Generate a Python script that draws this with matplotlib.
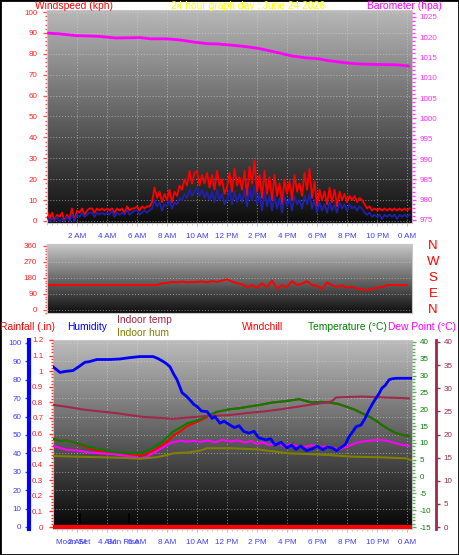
import matplotlib
matplotlib.use("Agg")
import matplotlib.pyplot as plt
import matplotlib.transforms as mtransforms
import numpy as np
from matplotlib.patches import Rectangle
from matplotlib.ticker import MultipleLocator, FormatStrFormatter

plt.rcParams["font.family"] = ["Liberation Sans", "DejaVu Sans"]
plt.rcParams["axes.unicode_minus"] = False

# ---------------- data ----------------
hour_ticks = [2, 4, 6, 8, 10, 12, 14, 16, 18, 20, 22, 24]
hour_labels = ["2 AM", "4 AM", "6 AM", "8 AM", "10 AM", "12 PM",
               "2 PM", "4 PM", "6 PM", "8 PM", "10 PM", "0 AM"]

# wind speed (kph), one value every 10 minutes from midnight
wind_gust = [5, 1, 4, 0, 3, 2,   4, 0, 3, 1, 6, 0,   5, 4, 6, 3, 5, 6,
             6, 4, 6, 5, 6, 5,   6, 5, 6, 4, 6, 5,   6, 4, 7, 5, 6, 6,
             7, 5, 7, 6, 7, 7,   9, 16, 11, 14, 9, 13,   10, 15, 9, 14, 12, 17,
             15, 20, 17, 24, 18, 23,   24, 17, 22, 18, 23, 16,   22, 15, 24, 17, 20, 13,
             16, 23, 14, 25, 17, 21,   15, 24, 12, 26, 18, 29,   14, 22, 11, 24, 13, 21,
             10, 22, 12, 18, 8, 20,   13, 19, 10, 22, 14, 18,   12, 23, 15, 25, 11, 19,
             7, 15, 10, 14, 8, 16,   9, 15, 7, 14, 10, 13,   9, 12, 10, 12, 9, 11,
             10, 8, 6, 7, 5, 6,   5, 6, 5, 6, 5, 6,   5, 6, 5, 6, 5, 6,   5, 6]
wind_avg = [2, 0, 1, 0, 2, 0,   1, 0, 2, 0, 3, 0,   3, 2, 4, 2, 3, 4,
            4, 2, 4, 3, 4, 3,   4, 3, 5, 2, 4, 3,   4, 3, 5, 3, 4, 5,
            5, 3, 4, 5, 4, 5,   6, 10, 7, 9, 5, 8,   7, 10, 6, 9, 8, 11,
            10, 13, 11, 15, 12, 14,   16, 12, 15, 11, 14, 10,   14, 9, 15, 10, 13, 8,
            10, 15, 8, 14, 9, 13,   9, 15, 7, 16, 10, 17,   8, 13, 5, 14, 7, 12,
            5, 12, 6, 11, 4, 12,   7, 11, 5, 12, 8, 10,   6, 12, 8, 13, 6, 10,
            4, 9, 5, 8, 4, 9,   5, 8, 4, 9, 6, 8,   5, 8, 6, 7, 5, 7,
            6, 4, 3, 4, 2, 3,   2, 3, 1, 3, 2, 3,   2, 3, 1, 3, 2, 3,   2, 3]

baro_hours = [0.1, 0.9, 1.9, 2.8, 3.5, 4.6, 6.2, 6.9, 8.0, 8.9, 9.8, 10.7, 11.5, 12.1,
              13.0, 13.8, 14.3, 15.5, 16.3, 17.3, 18.1, 18.8, 19.9, 20.8, 22.0, 23.3, 24.1]
baro_hpa = [1021.0, 1020.8, 1020.4, 1020.3, 1020.2, 1019.8, 1019.9, 1019.6, 1019.6, 1019.3,
            1018.8, 1018.4, 1018.3, 1018.1, 1017.8, 1017.4, 1017.1, 1016.1, 1015.4, 1014.9,
            1014.7, 1014.2, 1013.7, 1013.4, 1013.3, 1013.2, 1012.9]

# wind direction (deg), one value every 20 minutes
wind_dir = [140] * 22 + [140, 150, 152, 158, 155, 160, 155, 157, 158, 160, 156, 162, 158, 165,
                         172, 160, 150, 145, 128, 140, 125, 150, 128, 165, 120, 138, 130, 162,
                         140, 148, 162, 140, 135, 118, 155, 140, 130, 138, 125, 130, 120, 115,
                         112, 118, 125, 128] + [140, 140, 140, 140, 140]
compass_labels = ["N", "W", "S", "E", "N"]
compass_deg = [360, 270, 180, 90, 0]

hum_hours = [0.4, 0.87, 1.2, 1.73, 2.1, 2.53, 2.8, 3.33, 4.2, 4.87, 5.5, 6.2, 7.07, 7.4, 7.73,
             8.0, 8.2, 8.45, 8.67, 9.0, 9.3, 9.53, 9.8, 10.0, 10.3, 10.67, 11.0, 11.2, 11.53, 11.8,
             12.2, 12.5, 12.8, 13.1, 13.47, 13.8, 14.1, 14.6, 14.9, 15.2, 15.6, 16.0, 16.3, 16.6,
             16.9, 17.3, 17.67, 18.0, 18.4, 18.7, 19.0, 19.3, 19.67, 19.9, 20.13, 20.4, 20.6,
             20.93, 21.2, 21.47, 21.7, 21.93, 22.1, 22.33, 22.55, 22.8, 23.0, 23.27, 24.27]
humidity = [87, 84, 84.5, 85, 87, 89.5, 89.8, 91, 91, 91.3, 92, 92.6, 92.6, 91.5, 90,
            88.5, 87, 83, 80, 73, 71, 69, 66.5, 65.5, 63, 62.7, 59, 60, 56.4, 57.5,
            55.4, 54, 55, 52, 51, 52, 48.5, 47.3, 48, 44.5, 46, 43, 44.5, 42.2,
            44, 41.5, 42.4, 44, 42, 43.5, 43, 41.5, 43.6, 45, 49, 52, 54.5,
            55.4, 59, 63.6, 67, 70, 72, 75.5, 77, 80, 80.5, 80.8, 80.8]

temp_hours = [0.4, 0.9, 1.33, 1.8, 2.2, 2.8, 3.53, 4.1, 4.67, 5.3, 6.0, 6.4, 6.67, 7.1, 7.53,
              8.0, 8.4, 8.9, 9.33, 9.8, 10.2, 10.8, 11.33, 12.2, 12.8, 13.47, 14.2, 15.0, 15.9,
              16.8, 17.3, 17.67, 18.3, 18.8, 19.4, 19.93, 20.5, 21.0, 21.4, 21.67, 22.0, 22.33,
              22.8, 23.27, 23.7, 24.13]
temperature = [11.2, 10.6, 10.7, 10.2, 9.7, 8.8, 8.1, 7.6, 7.2, 7.0, 6.9, 7.1, 7.7, 8.6, 9.9,
               11.6, 13.3, 14.6, 15.8, 16.4, 17.0, 18.2, 19.3, 20.0, 20.3, 20.8, 21.3, 22.0, 22.4,
               23.0, 22.4, 22.0, 22.2, 22.0, 21.6, 20.8, 19.9, 18.8, 18.0, 17.3, 16.4, 15.3,
               14.0, 12.9, 12.4, 12.0]
windchill = [11.2, 10.6, 10.7, 10.2, 9.5, 8.4, 7.6, 7.1, 6.7, 6.5, 6.4, 6.5, 6.9, 7.7, 8.9,
             10.4, 12.1, 13.5, 15.0, 15.9, 16.6, 18.0, 19.2, 20.0, 20.3, 20.8, 21.3, 22.0, 22.4,
             23.0, 22.4, 22.0, 22.2, 22.0, 21.6, 20.8, 19.9, 18.8, 18.0, 17.3, 16.4, 15.3,
             14.0, 12.9, 12.4, 12.0]

dew_hours = [0.4, 0.8, 1.33, 2.0, 2.6, 3.53, 4.5, 5.2, 5.73, 6.2, 6.6, 7.07, 7.6, 8.2, 8.87,
             9.3, 9.8, 10.2, 10.7, 11.2, 11.7, 12.2, 12.7, 13.2, 13.6, 14.0, 14.33, 14.8, 15.3,
             15.8, 16.2, 16.6, 17.1, 17.6, 18.2, 18.8, 19.2, 19.47, 19.8, 20.13, 20.6, 21.0,
             21.6, 22.13, 22.7, 23.27, 23.7, 24.13]
dew_point = [9.1, 8.6, 7.9, 7.8, 7.3, 6.9, 6.6, 6.2, 5.9, 5.4, 5.8, 6.9, 8.3, 9.9, 10.7,
             10.4, 10.6, 10.3, 10.7, 10.2, 10.9, 10.4, 10.8, 10.1, 10.6, 9.6, 10.2, 9.4, 9.9,
             9.0, 9.6, 9.1, 8.7, 9.3, 8.9, 8.9, 8.4, 8.1, 8.6, 9.1, 10.0, 10.4,
             10.7, 10.9, 10.6, 9.9, 9.4, 9.1]

intemp_hours = [0.4, 1.5, 2.4, 3.5, 4.67, 5.5, 6.4, 7.5, 8.4, 9.5, 10.67, 12.2, 13.5, 14.5,
                15.47, 16.5, 17.67, 18.6, 19.0, 19.27, 20.0, 21.0, 22.5, 23.5, 24.13]
indoor_temp = [26.4, 25.9, 25.4, 25.0, 24.6, 24.2, 23.8, 23.6, 23.4, 23.7, 24.0, 24.2, 24.7, 25.0,
               25.4, 25.9, 26.5, 26.9, 27.2, 28.0, 28.1, 28.2, 28.0, 27.9, 27.8]

inhum_hours = [0.4, 2.0, 3.53, 5.0, 6.2, 7.3, 8.0, 8.4, 9.5, 10.2, 10.67, 12.2, 14.0, 15.27,
               16.13, 17.5, 18.8, 20.33, 22.13, 23.93, 24.27]
indoor_hum = [38.6, 38.2, 37.9, 37.6, 37.1, 37.9, 39.1, 40.0, 40.6, 41.5, 42.8, 42.8, 42.2, 40.9,
              40.0, 39.6, 39.1, 38.2, 37.9, 37.3, 36.4]

rain_hours = [0.4, 24.33]
rainfall = [0, 0]

moon_set_hour = 2.2
sun_rise_hour = 5.47

# ---------------- helpers ----------------
W, H = 459, 555
BLUE_TXT = "#3c3cff"
MAROON = "#a0284a"
PX = 0.72  # points per pixel at 100 dpi


def rect(x0, y0, x1, y1):
    # pixel box with top-left origin -> figure fraction
    return [x0 / W, 1 - y1 / H, (x1 - x0) / W, (y1 - y0) / H]


def gradient(ax, top, bottom):
    g = np.linspace(top, bottom, 200).reshape(-1, 1)
    ax.imshow(g, extent=[0, 1, 0, 1], transform=ax.transAxes, aspect="auto",
              cmap="gray", vmin=0, vmax=1, zorder=0, interpolation="bilinear")


def frame(ax):
    for s in ax.spines.values():
        s.set_color("#c8c8c8")
        s.set_linewidth(0.8)


def overlay(r, base):
    ax = fig.add_axes(r, sharex=base)
    ax.patch.set_visible(False)
    for s in ax.spines.values():
        s.set_visible(False)
    ax.xaxis.set_visible(False)
    return ax


def ftext(x, y, s, color, size=7.4):
    fig.text(x / W, 1 - y / H, s, color=color, fontsize=size, ha="left", va="baseline")


GRID = dict(color="#d8d8d8", linestyle=(0, (1, 2)), linewidth=0.7, alpha=0.6)

fig = plt.figure(figsize=(W / 100, H / 100), dpi=100)

# ---------------- top panel: wind speed + barometer ----------------
ax1 = fig.add_axes(rect(47, 10, 412, 223))
gradient(ax1, 0.72, 0.05)
frame(ax1)
t_wind = np.arange(len(wind_gust)) / 6
ax1.plot(t_wind, wind_gust, color="#ff0000", lw=1.3, zorder=2)
ax1.plot(t_wind, wind_avg, color="#2020a8", lw=1.3, zorder=3)
ax1.set_xlim(0, 24.33)
ax1.set_ylim(-0.96, 100.96)
ax1.set_xticks(hour_ticks)
ax1.set_xticklabels(hour_labels)
ax1.xaxis.set_minor_locator(MultipleLocator(1 / 3))
ax1.tick_params(axis="x", which="both", color="#c0c0c0", labelcolor=BLUE_TXT,
                labelsize=5.8, length=2.5, pad=4.5)
ax1.tick_params(axis="x", which="minor", length=1.5)
ax1.set_yticks(range(0, 101, 10))
ax1.yaxis.set_minor_locator(MultipleLocator(2))
ax1.tick_params(axis="y", which="both", color="#ff5050", labelcolor="#ff2020",
                labelsize=5.8, length=3, width=1, pad=4)
ax1.tick_params(axis="y", which="minor", length=1.8)
ax1.grid(True, **GRID)

axp = overlay(rect(47, 10, 412, 223), ax1)
axp.plot(baro_hours, baro_hpa, color="#ff00ff", lw=2)
axp.set_ylim(974.26, 1026.7)
axp.yaxis.tick_right()
axp.set_yticks(range(975, 1026, 5))
axp.yaxis.set_minor_locator(MultipleLocator(1))
axp.tick_params(axis="y", which="both", color="#ff40ff", labelcolor="#ff30ff",
                labelsize=5.8, length=3, width=1, pad=2.5)
axp.tick_params(axis="y", which="minor", length=1.8)

ftext(35, 9, "Windspeed (kph)", "#ff0000")
ftext(171, 9, "24 hour graph day : June 24 2026", "#ffff00")
ftext(367, 9, "Barometer (hpa)", "#ff00ff")

# ---------------- middle panel: wind direction ----------------
ax2 = fig.add_axes(rect(47, 244, 412, 313))
gradient(ax2, 0.78, 0.06)
frame(ax2)
t_dir = np.linspace(0, 24, len(wind_dir))
ax2.plot(t_dir, wind_dir, color="#ff0000", lw=1.4, zorder=2)
ax2.set_xlim(0, 24.33)
ax2.set_ylim(-17, 371)
ax2.set_xticks([])
ax2.set_yticks([0, 90, 180, 270, 360])
ax2.yaxis.set_minor_locator(MultipleLocator(15))
ax2.tick_params(axis="y", which="both", color="#ff5050", labelcolor="#ff2020",
                labelsize=5.8, length=3, width=1, pad=4)
ax2.tick_params(axis="y", which="minor", length=1.8)
ax2.yaxis.grid(True, **GRID)
blend = mtransforms.blended_transform_factory(ax2.transAxes, ax2.transData)
for lab, deg in zip(compass_labels, compass_deg):
    ax2.text(1.0575, deg, lab, transform=blend, color="#ff0000", fontsize=9.5,
             ha="center", va="center", clip_on=False)

# ---------------- bottom panel ----------------
rb = rect(53, 340, 412, 529)
axb = fig.add_axes(rb)
gradient(axb, 0.74, 0.02)
frame(axb)
axb.set_xlim(0.4, 24.33)
axb.set_ylim(-1.09, 101.6)
axb.set_yticks(range(0, 101, 10))
axb.tick_params(axis="y", length=0, labelleft=False)
axb.set_xticks(hour_ticks)
axb.set_xticklabels(hour_labels)
axb.xaxis.set_minor_locator(MultipleLocator(1 / 3))
axb.tick_params(axis="x", which="both", color="#c0c0c0", labelcolor=BLUE_TXT,
                labelsize=5.8, length=2.5, pad=4.5)
axb.tick_params(axis="x", which="minor", length=1.5)
axb.grid(True, **GRID)
for hr in [moon_set_hour, sun_rise_hour]:
    axb.axvline(hr, ymax=0.08, color="#000000", lw=1.2, zorder=1)
lab_y = 1 - (529 + 7 / PX) / H
for hr, txt in [(1.77, "Moon Set"), (5.1, "Sun Rise")]:
    xf = (47 + hr * 15) / W
    fig.text(xf, lab_y, txt, color=BLUE_TXT, fontsize=5.8, ha="center", va="top")

# rainfall axis
axr = overlay(rb, axb)
axr.plot(rain_hours, rainfall, color="#ff0000", lw=3, solid_capstyle="butt")
axr.set_ylim(-0.0128, 1.2)
axr.set_yticks(np.arange(0, 1.21, 0.1))
axr.yaxis.set_major_formatter(FormatStrFormatter("%g"))
axr.yaxis.set_minor_locator(MultipleLocator(0.02))
axr.tick_params(axis="y", which="both", color="#ff3030", labelcolor="#ff2020",
                labelsize=5.8, length=3, width=1, pad=4)
axr.tick_params(axis="y", which="minor", length=1.8)

# temperature axis (right)
axt = overlay(rb, axb)
axt.yaxis.tick_right()
axt.plot(temp_hours, windchill, color="#ff0000", lw=1.5)
axt.plot(temp_hours, temperature, color="#008000", lw=1.5)
axt.plot(dew_hours, dew_point, color="#ff00ff", lw=1.5)
axt.set_ylim(-15.59, 40.59)
axt.set_yticks(range(-15, 41, 5))
axt.yaxis.set_minor_locator(MultipleLocator(1))
axt.tick_params(axis="y", which="both", color="#60b060", labelcolor="#008000",
                labelsize=5.8, length=3, width=1, pad=2.5)
axt.tick_params(axis="y", which="minor", length=1.8)

# indoor temperature axis (far right)
axd = overlay(rb, axb)
axd.yaxis.tick_right()
axd.spines["right"].set_visible(True)
axd.spines["right"].set_position(("outward", 24 * PX))
axd.spines["right"].set_color(MAROON)
axd.spines["right"].set_linewidth(2)
axd.plot(intemp_hours, indoor_temp, color=MAROON, lw=1.5)
axd.set_ylim(-0.43, 40.43)
axd.set_yticks(range(0, 41, 5))
axd.tick_params(axis="y", color=MAROON, labelcolor=MAROON,
                labelsize=5.8, length=3, width=1, pad=2.5)

# humidity axis (far left)
axh = overlay(rb, axb)
axh.yaxis.tick_left()
axh.spines["left"].set_visible(True)
axh.spines["left"].set_position(("outward", 24 * PX))
axh.spines["left"].set_color("#0000ff")
axh.spines["left"].set_linewidth(3)
axh.plot(inhum_hours, indoor_hum, color="#808000", lw=1.5)
axh.plot(hum_hours, humidity, color="#0000ff", lw=2)
axh.set_ylim(-1.09, 101.6)
axh.set_yticks(range(0, 101, 10))
axh.yaxis.set_minor_locator(MultipleLocator(2))
axh.tick_params(axis="y", which="both", color="#4040ff", labelcolor=BLUE_TXT,
                labelsize=5.8, length=3, width=1, pad=2.5)
axh.tick_params(axis="y", which="minor", length=1.8)

ftext(0, 330, "Rainfall (.in)", "#ff0000")
ftext(67, 330, "Humidity", "#0000ff")
ftext(117, 323, "Indoor temp", MAROON)
ftext(117, 336, "Indoor hum", "#808000")
ftext(242, 330, "Windchill", "#ff0000")
ftext(308, 330, "Temperature (°C)", "#008000")
ftext(388, 330, "Dew Point (°C)", "#ff00ff")

fig.patches.append(Rectangle((0, 0), 1, 1, transform=fig.transFigure, fill=False,
                             edgecolor="black", linewidth=2))

fig.savefig("out.png", dpi=100)
